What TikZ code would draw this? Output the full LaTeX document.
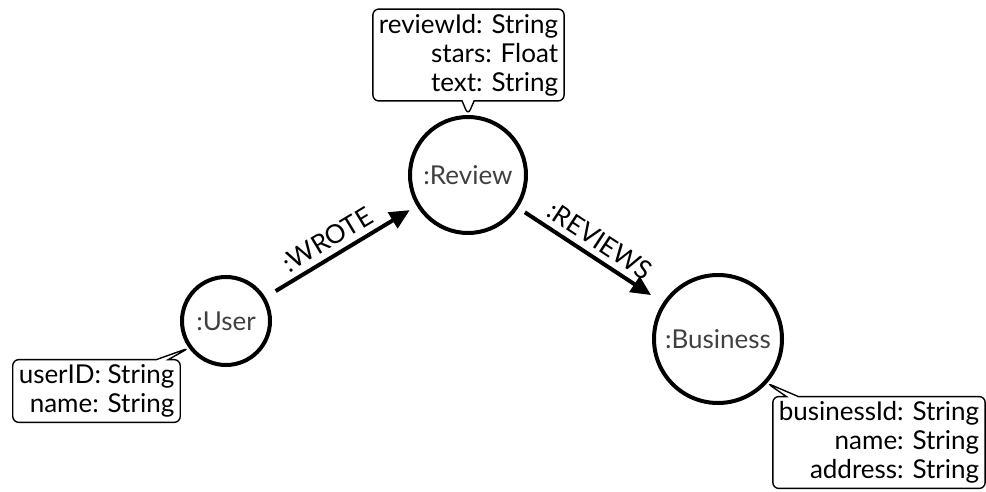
\documentclass[tikz,border=0pt]{standalone}
\usepackage{fontspec}
\setmainfont{Lato}
\usetikzlibrary{shapes.callouts,arrows.meta}
\tikzset{
  entity/.style={circle, draw, line width=2pt, text=black!75, inner sep=0pt,
    font=\fontsize{13}{14.5}\selectfont},
  props/.style={rectangle callout, draw, rounded corners=3pt, line width=0.7pt,
    align=right, inner xsep=3pt, inner ysep=2.5pt, callout pointer width=6pt,
    font=\fontsize{13}{14.5}\selectfont},
  rel/.style={-{Triangle[length=10pt,width=9pt]}, line width=2pt},
  rellabel/.style={sloped, above, inner sep=3pt, font=\fontsize{13}{14.5}\selectfont}
}

\begin{document}
\begin{tikzpicture}[x=0.5pt, y=-0.5pt]
  \useasboundingbox (0,0) rectangle (986,492);
  % entities
  \node[entity, minimum size=44pt] (user) at (226,321) {:User};
  \node[entity, minimum size=58pt] (review) at (468,175) {:Review};
  \node[entity, minimum size=64pt] (business) at (718,339) {:Business};
  % relationships
  \draw[rel, shorten <=6pt, shorten >=4pt] (user) -- node[rellabel, pos=0.47] {:WROTE} (review);
  \draw[rel, shorten <=4pt, shorten >=7pt] (review) -- node[rellabel] {:REVIEWS} (business);
  % properties
  \node[props, callout absolute pointer=(user.216)] (userprops) at (96.5,391)
    {userID: String\\name: String};
  \node[props, callout absolute pointer=(review.north)] (reviewprops) at (468.5,55)
    {reviewId: String\\stars: Float\\text: String};
  \node[props, callout absolute pointer=(business.-42)] (businessprops) at (879,442.5)
    {businessId: String\\name: String\\address: String};
\end{tikzpicture}
\end{document}
